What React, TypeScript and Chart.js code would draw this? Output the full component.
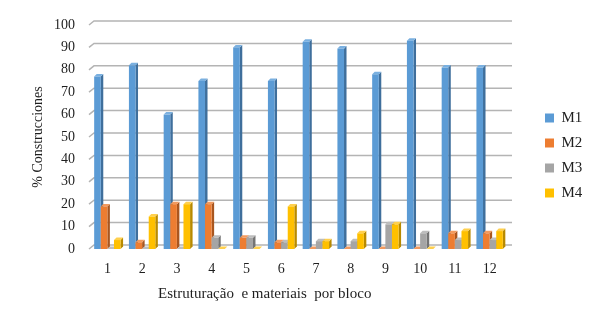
import React, { useEffect, useRef } from 'react';
import { Chart, registerables } from 'chart.js';

Chart.register(...registerables);

const categories = ['1', '2', '3', '4', '5', '6', '7', '8', '9', '10', '11', '12'];
const seriesNames = ['M1', 'M2', 'M3', 'M4'];
const m1 = [77, 82, 60, 75, 90, 75, 92.5, 89.5, 78, 93, 81, 81];
const m2 = [19, 3, 20, 20, 5, 3, 0, 0, 0, 0, 7, 7];
const m3 = [0, 0, 0, 5, 5, 3, 3.5, 3.5, 11, 7, 4, 4];
const m4 = [4, 14.5, 20, 0, 0, 19, 3.5, 7, 11, 0, 8, 8];
const yTicks = [0, 10, 20, 30, 40, 50, 60, 70, 80, 90, 100];

const frontColors = ['#5B9BD5', '#ED7D31', '#A5A5A5', '#FFC000'];
const sideColors = ['#3F6F9C', '#A9561F', '#747474', '#B88A00'];
const topColors = ['#7AB0E0', '#F29A5E', '#BDBDBD', '#FFD04D'];

const FONT = "'Liberation Serif', 'Times New Roman', serif";
const TEXT = '#1f1f1f';
const DX = 2.5;
const DY = 2.5;

const bar3d = {
  id: 'bar3d',
  beforeDatasetsDraw(chart: any) {
    const { ctx, chartArea, scales } = chart;
    const y = scales.y;
    ctx.save();
    ctx.strokeStyle = '#B4B4B4';
    ctx.lineWidth = 1.5;
    for (const v of yTicks) {
      const py = y.getPixelForValue(v);
      ctx.beginPath();
      ctx.moveTo(chartArea.left - 1, py);
      ctx.lineTo(chartArea.left + 4, py - 4);
      ctx.lineTo(chartArea.right + 5, py - 4);
      ctx.stroke();
    }
    ctx.restore();
  },
  beforeDatasetDraw() {
    return false;
  },
  afterDatasetsDraw(chart: any) {
    const { ctx } = chart;
    const n = chart.data.labels.length;
    ctx.save();
    for (let i = 0; i < n; i++) {
      for (let d = 0; d < chart.data.datasets.length; d++) {
        const meta = chart.getDatasetMeta(d);
        const el = meta.data[i];
        if (!el) continue;
        const { x, y, base, width } = el.getProps(['x', 'y', 'base', 'width'], true);
        const left = x - width / 2;
        const right = x + width / 2;
        const top = Math.min(y, base);
        const bottom = base;
        ctx.fillStyle = sideColors[d];
        ctx.beginPath();
        ctx.moveTo(right, top);
        ctx.lineTo(right + DX, top - DY);
        ctx.lineTo(right + DX, bottom - DY);
        ctx.lineTo(right, bottom);
        ctx.closePath();
        ctx.fill();
        ctx.fillStyle = topColors[d];
        ctx.beginPath();
        ctx.moveTo(left, top);
        ctx.lineTo(left + DX, top - DY);
        ctx.lineTo(right + DX, top - DY);
        ctx.lineTo(right, top);
        ctx.closePath();
        ctx.fill();
        ctx.fillStyle = frontColors[d];
        ctx.fillRect(left, top, width, bottom - top);
      }
    }
    ctx.restore();
  },
};

const LEGEND_W = 87;

const legendFix = {
  id: 'legendFix',
  beforeLayout(chart: any) {
    const lg: any = chart.legend;
    if (lg && !lg.__patched) {
      const orig = lg.fit;
      lg.fit = function () {
        orig.call(this);
        if (!this.isHorizontal()) this.width = LEGEND_W;
      };
      lg.__patched = true;
    }
  },
  afterLayout(chart: any) {
    const lg: any = chart.legend;
    if (!lg) return;
    lg.left = chart.chartArea.right + 28;
    lg.right = lg.left + 60;
    lg.width = 60;
    lg.top = 0;
    lg.bottom = chart.height;
    lg.height = chart.height;
  },
};

export default function App() {
  const ref = useRef<HTMLCanvasElement | null>(null);

  useEffect(() => {
    document.body.style.margin = '0';
    const canvas = ref.current;
    if (!canvas) return;
    const seriesData = [m1, m2, m3, m4];
    const chart = new Chart(canvas, {
      type: 'bar',
      data: {
        labels: categories,
        datasets: seriesNames.map((name, k) => ({
          label: name,
          data: seriesData[k],
          backgroundColor: frontColors[k],
          borderWidth: 0,
          categoryPercentage: 0.76,
          barPercentage: 1,
        })),
      },
      options: {
        animation: false,
        responsive: true,
        maintainAspectRatio: false,
        layout: { padding: { top: 25, left: 0, right: 0, bottom: 0 } },
        plugins: {
          tooltip: { enabled: false },
          legend: {
            position: 'right',
            labels: {
              boxWidth: 9,
              boxHeight: 9,
              padding: 10,
              color: TEXT,
              font: { family: FONT, size: 15 },
            },
          },
        },
        scales: {
          x: {
            grid: { display: false, drawTicks: false },
            border: { display: false },
            ticks: { color: TEXT, font: { family: FONT, size: 14 }, padding: 12 },
            title: {
              display: true,
              text: 'Estruturação  e materiais  por bloco' + '\u00A0'.repeat(18),
              color: TEXT,
              font: { family: FONT, size: 15 },
              padding: { top: 0, bottom: 8 },
            },
            afterFit(scale: any) {
              scale.height = 62;
            },
          },
          y: {
            min: 0,
            max: 100,
            grid: { display: false, drawTicks: false },
            border: { display: false },
            ticks: {
              stepSize: 10,
              color: TEXT,
              font: { family: FONT, size: 14 },
              padding: 15,
            },
            title: {
              display: true,
              text: '% Construcciones',
              color: TEXT,
              font: { family: FONT, size: 14 },
              padding: { top: 30, bottom: 0 },
            },
            afterFit(scale: any) {
              scale.width = 90;
            },
          },
        },
      },
      plugins: [bar3d, legendFix],
    });
    return () => chart.destroy();
  }, []);

  return (
    <div style={{ width: 594, height: 311, position: 'relative' }}>
      <canvas ref={ref} />
    </div>
  );
}
